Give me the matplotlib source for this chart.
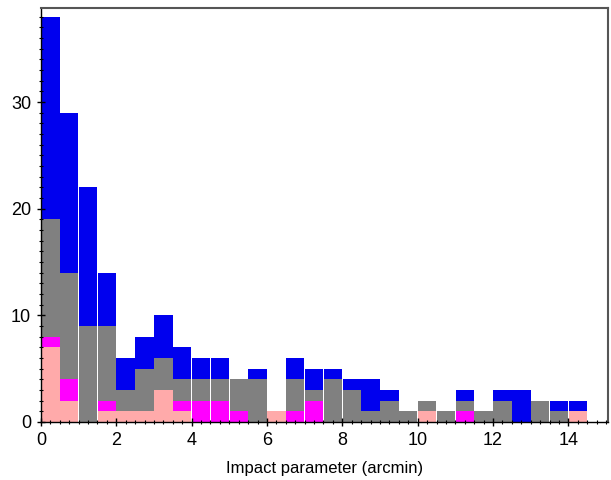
import matplotlib
matplotlib.use("Agg")
import matplotlib.pyplot as plt
import numpy as np
from matplotlib.ticker import MultipleLocator

plt.rcParams['font.family'] = ['Liberation Sans', 'DejaVu Sans']

bin_left = np.arange(0, 14.5, 0.5)
bin_width = 0.5

pink =    [7, 2, 0, 1, 1, 1, 3, 1, 0, 0, 0, 0, 1, 0, 0, 0, 0, 0, 0, 0, 1, 0, 0, 0, 0, 0, 0, 0, 1]
magenta = [1, 2, 0, 1, 0, 0, 0, 1, 2, 2, 1, 0, 0, 1, 2, 0, 0, 0, 0, 0, 0, 0, 1, 0, 0, 0, 0, 0, 0]
gray =    [11, 10, 9, 7, 2, 4, 3, 2, 2, 2, 3, 4, 0, 3, 1, 4, 3, 1, 2, 1, 1, 1, 1, 1, 2, 0, 2, 1, 0]
blue =    [19, 15, 13, 5, 3, 3, 4, 3, 2, 2, 0, 1, 0, 2, 2, 1, 1, 3, 1, 0, 0, 0, 1, 0, 1, 3, 0, 1, 1]

series = [pink, magenta, gray, blue]
colors = ['#ffaaaa', '#ff00ff', '#808080', '#0000ee']

fig = plt.figure(figsize=(6.11, 4.8), dpi=100)
ax = fig.add_axes([0.067, 0.121, 0.928, 0.862])

bottom = np.zeros(len(bin_left))
for vals, c in zip(series, colors):
    v = np.array(vals, dtype=float)
    ax.bar(bin_left + 0.005, v, width=bin_width - 0.01, bottom=bottom, align='edge',
           color=c, linewidth=0)
    bottom += v

ax.set_xlim(0, 15.05)
ax.set_ylim(0, 38.8)
ax.xaxis.set_major_locator(MultipleLocator(2))
ax.xaxis.set_minor_locator(MultipleLocator(0.25))
ax.yaxis.set_major_locator(MultipleLocator(10))
ax.yaxis.set_minor_locator(MultipleLocator(1))
ax.tick_params(axis='both', which='major', direction='inout', length=6, width=1, labelsize=13, pad=4)
ax.tick_params(axis='both', which='minor', direction='inout', length=3, width=0.8)
ax.tick_params(top=False, right=False)
for s in ['top', 'right']:
    ax.spines[s].set_color('#555555')
    ax.spines[s].set_linewidth(1.5)
for s in ['left', 'bottom']:
    ax.spines[s].set_linewidth(1)
ax.set_xlabel('Impact parameter (arcmin)', fontsize=12, labelpad=9)

fig.savefig('out.png', dpi=100)
